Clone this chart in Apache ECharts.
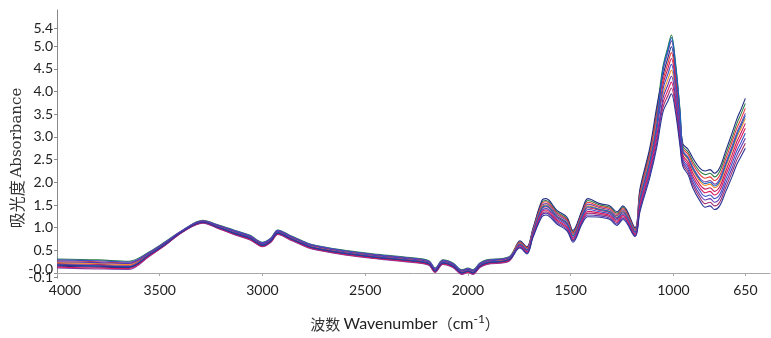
<!DOCTYPE html>
<html>
<head>
<meta charset="utf-8">
<script src="https://cdn.jsdelivr.net/npm/echarts@6/dist/echarts.min.js"></script>
<style>
  html, body { margin: 0; padding: 0; background: #ffffff; }
  #chart { width: 771px; height: 338px; }
</style>
</head>
<body>
<div id="chart"></div>
<script>
// Wavenumber grid shared by every spectrum (cm-1)
const wavenumbers = [4000, 3800, 3650, 3550, 3470, 3390, 3290, 3220, 3140, 3060,
  3000, 2960, 2925, 2870, 2820, 2760, 2600, 2440, 2280, 2190,
  2160, 2122, 2073, 2029, 2000, 1976, 1942, 1908, 1800, 1747,
  1713, 1684, 1640, 1620, 1567, 1518, 1489, 1445, 1416, 1358,
  1309, 1275, 1246, 1187, 1163, 1114, 1080, 1051, 1026, 1010,
  990, 968, 954, 929, 905, 871, 845, 822, 800, 775,
  745, 715, 691, 670, 650];

// Absorbance of each sample spectrum
const sampleA = [0.31, 0.29, 0.26, 0.47, 0.70, 0.94, 1.16, 1.07, 0.95, 0.83,
  0.68, 0.77, 0.95, 0.84, 0.74, 0.63, 0.50, 0.41, 0.34, 0.27,
  0.11, 0.29, 0.22, 0.07, 0.11, 0.07, 0.22, 0.29, 0.36, 0.69,
  0.56, 0.96, 1.56, 1.60, 1.35, 1.20, 0.91, 1.35, 1.60, 1.50,
  1.45, 1.32, 1.45, 0.98, 1.80, 2.71, 3.61, 4.55, 5.00, 5.25,
  4.65, 3.60, 2.80, 2.67, 2.46, 2.24, 2.17, 2.20, 2.12, 2.24,
  2.61, 2.98, 3.30, 3.52, 3.74];
const sampleB = [0.15, 0.13, 0.12, 0.39, 0.64, 0.91, 1.11, 1.01, 0.87, 0.75,
  0.60, 0.69, 0.87, 0.76, 0.66, 0.55, 0.42, 0.33, 0.26, 0.19,
  0.03, 0.21, 0.14, -0.01, 0.03, -0.01, 0.14, 0.21, 0.28, 0.71,
  0.58, 0.98, 1.60, 1.64, 1.38, 1.23, 0.94, 1.38, 1.64, 1.53,
  1.48, 1.35, 1.48, 1.00, 1.85, 2.78, 3.70, 4.35, 4.76, 4.99,
  4.43, 3.44, 2.85, 2.73, 2.53, 2.31, 2.25, 2.28, 2.20, 2.32,
  2.70, 3.08, 3.40, 3.62, 3.85];
const sampleC = [0.27, 0.25, 0.22, 0.45, 0.68, 0.93, 1.15, 1.05, 0.93, 0.81,
  0.66, 0.75, 0.93, 0.82, 0.72, 0.61, 0.48, 0.39, 0.32, 0.25,
  0.09, 0.27, 0.20, 0.05, 0.09, 0.05, 0.20, 0.27, 0.34, 0.68,
  0.55, 0.94, 1.53, 1.57, 1.32, 1.17, 0.89, 1.32, 1.56, 1.47,
  1.42, 1.29, 1.42, 0.96, 1.75, 2.65, 3.52, 4.25, 4.64, 4.86,
  4.32, 3.36, 2.75, 2.62, 2.40, 2.17, 2.09, 2.12, 2.04, 2.15,
  2.52, 2.89, 3.20, 3.41, 3.63];
const sampleD = [0.11, 0.09, 0.08, 0.37, 0.62, 0.90, 1.10, 0.99, 0.85, 0.73,
  0.58, 0.67, 0.85, 0.74, 0.64, 0.53, 0.40, 0.31, 0.24, 0.17,
  0.01, 0.19, 0.12, -0.03, 0.01, -0.03, 0.12, 0.19, 0.26, 0.66,
  0.53, 0.92, 1.49, 1.53, 1.29, 1.14, 0.86, 1.29, 1.52, 1.44,
  1.39, 1.26, 1.39, 0.94, 1.70, 2.58, 3.43, 4.45, 4.88, 5.12,
  4.54, 3.52, 2.70, 2.56, 2.33, 2.09, 2.01, 2.04, 1.96, 2.07,
  2.43, 2.79, 3.10, 3.31, 3.52];
const sampleE = [0.23, 0.21, 0.19, 0.43, 0.67, 0.92, 1.14, 1.04, 0.91, 0.79,
  0.64, 0.73, 0.91, 0.80, 0.70, 0.59, 0.46, 0.37, 0.30, 0.23,
  0.07, 0.25, 0.18, 0.03, 0.07, 0.03, 0.18, 0.25, 0.32, 0.65,
  0.52, 0.90, 1.46, 1.50, 1.26, 1.11, 0.84, 1.26, 1.48, 1.41,
  1.36, 1.23, 1.36, 0.92, 1.65, 2.52, 3.34, 3.95, 4.28, 4.47,
  3.99, 3.12, 2.65, 2.51, 2.27, 2.02, 1.93, 1.96, 1.88, 1.98,
  2.34, 2.70, 3.00, 3.20, 3.41];
const sampleF = [0.19, 0.17, 0.15, 0.41, 0.65, 0.92, 1.12, 1.02, 0.89, 0.77,
  0.62, 0.71, 0.89, 0.78, 0.68, 0.57, 0.44, 0.35, 0.28, 0.21,
  0.05, 0.23, 0.16, 0.01, 0.05, 0.01, 0.16, 0.23, 0.30, 0.63,
  0.50, 0.88, 1.42, 1.46, 1.23, 1.08, 0.81, 1.23, 1.44, 1.38,
  1.33, 1.20, 1.33, 0.90, 1.60, 2.45, 3.25, 4.15, 4.52, 4.73,
  4.21, 3.28, 2.60, 2.45, 2.20, 1.95, 1.85, 1.88, 1.80, 1.90,
  2.25, 2.60, 2.90, 3.10, 3.30];
const sampleG = [0.29, 0.27, 0.24, 0.46, 0.69, 0.94, 1.15, 1.06, 0.94, 0.82,
  0.67, 0.76, 0.94, 0.83, 0.73, 0.62, 0.49, 0.40, 0.33, 0.26,
  0.10, 0.28, 0.21, 0.06, 0.10, 0.06, 0.21, 0.28, 0.35, 0.61,
  0.48, 0.86, 1.38, 1.42, 1.20, 1.05, 0.78, 1.20, 1.40, 1.35,
  1.30, 1.17, 1.30, 0.88, 1.55, 2.38, 3.16, 4.05, 4.40, 4.60,
  4.10, 3.20, 2.50, 2.34, 2.07, 1.81, 1.69, 1.72, 1.64, 1.73,
  2.07, 2.41, 2.70, 2.89, 3.08];
const sampleH = [0.13, 0.11, 0.10, 0.38, 0.63, 0.90, 1.11, 1.00, 0.86, 0.74,
  0.59, 0.68, 0.86, 0.75, 0.65, 0.54, 0.41, 0.32, 0.25, 0.18,
  0.02, 0.20, 0.13, -0.02, 0.02, -0.02, 0.13, 0.20, 0.27, 0.60,
  0.47, 0.84, 1.35, 1.39, 1.17, 1.02, 0.76, 1.17, 1.36, 1.32,
  1.27, 1.14, 1.27, 0.86, 1.50, 2.32, 3.07, 3.75, 4.04, 4.21,
  3.77, 2.96, 2.55, 2.39, 2.13, 1.88, 1.77, 1.80, 1.72, 1.82,
  2.16, 2.50, 2.80, 3.00, 3.19];
const sampleI = [0.25, 0.23, 0.21, 0.44, 0.68, 0.93, 1.14, 1.05, 0.92, 0.80,
  0.65, 0.74, 0.92, 0.81, 0.71, 0.60, 0.47, 0.38, 0.31, 0.24,
  0.08, 0.26, 0.19, 0.04, 0.08, 0.04, 0.19, 0.26, 0.33, 0.57,
  0.44, 0.80, 1.28, 1.32, 1.11, 0.96, 0.71, 1.11, 1.28, 1.26,
  1.21, 1.08, 1.21, 0.82, 1.40, 2.19, 2.89, 3.85, 4.16, 4.34,
  3.88, 3.04, 2.45, 2.28, 2.00, 1.73, 1.61, 1.64, 1.56, 1.65,
  1.98, 2.31, 2.60, 2.79, 2.97];
const sampleJ = [0.17, 0.15, 0.13, 0.40, 0.64, 0.91, 1.12, 1.01, 0.88, 0.76,
  0.61, 0.70, 0.88, 0.77, 0.67, 0.56, 0.43, 0.34, 0.27, 0.20,
  0.04, 0.22, 0.15, 0.00, 0.04, 0.00, 0.15, 0.22, 0.29, 0.55,
  0.42, 0.78, 1.24, 1.28, 1.08, 0.93, 0.68, 1.08, 1.24, 1.23,
  1.18, 1.05, 1.18, 0.80, 1.35, 2.12, 2.80, 3.55, 3.80, 3.95,
  3.55, 2.80, 2.35, 2.17, 1.87, 1.59, 1.45, 1.48, 1.40, 1.48,
  1.80, 2.12, 2.40, 2.58, 2.75];
const sampleK = [0.21, 0.19, 0.17, 0.42, 0.66, 0.92, 1.13, 1.03, 0.90, 0.78,
  0.63, 0.72, 0.90, 0.79, 0.69, 0.58, 0.45, 0.36, 0.29, 0.22,
  0.06, 0.24, 0.17, 0.02, 0.06, 0.02, 0.17, 0.24, 0.31, 0.58,
  0.45, 0.82, 1.31, 1.35, 1.14, 0.99, 0.73, 1.14, 1.32, 1.29,
  1.24, 1.11, 1.24, 0.84, 1.45, 2.25, 2.98, 3.65, 3.92, 4.08,
  3.66, 2.88, 2.40, 2.23, 1.94, 1.66, 1.53, 1.56, 1.48, 1.56,
  1.89, 2.22, 2.50, 2.68, 2.86];
const sampleL = [0.18, 0.16, 0.14, 0.41, 0.65, 0.91, 1.12, 1.02, 0.89, 0.77,
  0.62, 0.71, 0.89, 0.78, 0.68, 0.57, 0.44, 0.35, 0.28, 0.21,
  0.05, 0.23, 0.16, 0.01, 0.05, 0.01, 0.16, 0.23, 0.30, 0.64,
  0.51, 0.89, 1.44, 1.48, 1.25, 1.10, 0.82, 1.25, 1.46, 1.40,
  1.35, 1.22, 1.35, 0.91, 1.63, 2.48, 3.30, 4.50, 4.94, 5.19,
  4.60, 3.56, 2.68, 2.53, 2.30, 2.06, 1.97, 2.00, 1.92, 2.03,
  2.39, 2.74, 3.05, 3.26, 3.47];

const samples = [sampleA, sampleB, sampleC, sampleK, sampleD, sampleE,
                 sampleF, sampleL, sampleG, sampleH, sampleI, sampleJ];
const sampleColors = ['#2e7d46', '#1f2a80', '#e53935', '#a0306e', '#7b3fa6', '#f08a24',
                      '#c2185b', '#1565c0', '#3f51c4', '#d81b60', '#5e35b1', '#2b3595'];

// Axis tick positions
const xTicks = [4000, 3500, 3000, 2500, 2000, 1500, 1000, 650];
const yTicks = [-0.1, 0, 0.5, 1.0, 1.5, 2.0, 2.5, 3.0, 3.5, 4.0, 4.5, 5.0, 5.4];
// The two lowest labels sit almost on top of each other, so each gets its own
// label-only axis and the collision logic of the main axis leaves them alone.
const yLabelsMain = [0.5, 1.0, 1.5, 2.0, 2.5, 3.0, 3.5, 4.0, 4.5, 5.0, 5.4];
const yLabelZero = [0];
const yLabelMin = [-0.1];

const tickFont = 'Lato, "Open Sans", sans-serif';
const yMin = -0.11;
const yMax = 5.8;

const chart = echarts.init(document.getElementById('chart'), null, { renderer: 'canvas' });

const series = samples.map((vals, i) => ({
  type: 'line',
  yAxisIndex: 0,
  data: wavenumbers.map((w, k) => [w, vals[k]]),
  showSymbol: false,
  smooth: 0.35,
  lineStyle: { width: 1.1, color: sampleColors[i] },
  itemStyle: { color: sampleColors[i] },
  silent: true
}));

function labelAxis(values, fmt, extra) {
  return Object.assign({
    type: 'value',
    position: 'left',
    min: yMin,
    max: yMax,
    splitLine: { show: false },
    axisLine: { show: false },
    axisTick: { show: false },
    axisLabel: {
      customValues: values,
      hideOverlap: false,
      color: '#222',
      fontSize: 14,
      fontFamily: tickFont,
      margin: 4,
      formatter: fmt
    }
  }, extra || {});
}

chart.setOption({
  backgroundColor: '#ffffff',
  animation: false,
  grid: { left: 57, right: 1, top: 10, bottom: 60, containLabel: false },
  xAxis: {
    type: 'value',
    inverse: true,
    min: 530,
    max: 4000,
    splitLine: { show: false },
    axisLine: { show: true, lineStyle: { color: '#a8a8a8', width: 1 } },
    axisTick: { show: true, length: 3, lineStyle: { color: '#a8a8a8' }, customValues: xTicks },
    axisLabel: {
      customValues: xTicks,
      color: '#222',
      fontSize: 14,
      fontFamily: tickFont,
      margin: 5,
      hideOverlap: false,
      formatter: v => (v === 4000 ? '{f|4000}' : String(v)),
      rich: { f: { fontSize: 14, fontFamily: tickFont, color: '#222', padding: [0, 0, 0, 16] } }
    }
  },
  yAxis: [
    labelAxis(yLabelsMain, v => v.toFixed(1), {
      axisLine: { show: true, onZero: false, lineStyle: { color: '#8a8a8a', width: 1 } },
      axisTick: { show: true, length: 3, lineStyle: { color: '#8a8a8a' }, customValues: yTicks }
    }),
    labelAxis(yLabelZero, () => '{z|-0.0}'),
    labelAxis(yLabelMin, v => v.toFixed(1))
  ],
  graphic: [
    {
      type: 'text',
      x: 17,
      y: 158,
      rotation: Math.PI / 2,
      style: {
        text: '{cn|吸光度}{sp| }{en|Absorbance}',
        align: 'center',
        verticalAlign: 'middle',
        rich: {
          cn: { fontSize: 16, fontFamily: '"Noto Sans CJK SC", sans-serif', fill: '#333' },
          sp: { fontSize: 10 },
          en: { fontSize: 15, fontFamily: '"DejaVu Serif", serif', fill: '#333' }
        }
      }
    },
    {
      type: 'text',
      x: 405,
      y: 324,
      style: {
        text: '{cn|波数}{sp| }{en|Wavenumber}{par|（}{en|cm}{sup|-1}{par|）}',
        align: 'center',
        verticalAlign: 'middle',
        rich: {
          cn: { fontSize: 15, fontFamily: '"Noto Sans CJK SC", sans-serif', fill: '#333' },
          sp: { fontSize: 12 },
          en: { fontSize: 16, fontFamily: tickFont, fill: '#222' },
          par: { fontSize: 15, fontFamily: '"Noto Sans CJK SC", sans-serif', fill: '#333' },
          sup: { fontSize: 12, fontFamily: tickFont, fill: '#222', padding: [0, 0, 10, 0] }
        }
      }
    }
  ],
  series: series
});

// Raise the "-0.0" label a touch so it clears the "-0.1" label below it
chart.setOption({
  yAxis: [{}, {
    axisLabel: {
      rich: { z: { fontSize: 14, fontFamily: tickFont, color: '#222', padding: [0, 0, 8, 0] } }
    }
  }, {}]
});
</script>
</body>
</html>
